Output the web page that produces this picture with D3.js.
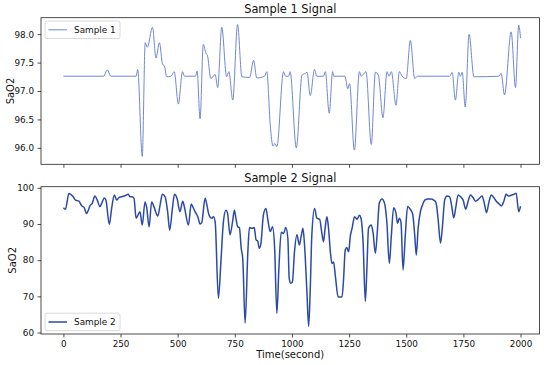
<!DOCTYPE html>
<html>
<head>
<meta charset="utf-8">
<script src="https://cdn.jsdelivr.net/npm/d3@7"></script>
<style>
  html, body { margin: 0; padding: 0; background: #fff; }
  svg { display: block; font-family: "DejaVu Sans", sans-serif; }
</style>
</head>
<body>
<svg id="chart" width="550" height="365"></svg>
<script>
// ---------------- data ----------------
const time1 = [0,175,192,208,318,325,345,358,367,390,405,420,434,442,452,470,485,503,521,530,578,585,598,612,624,630,645,664,675,693,714,724,741,762,781,815,832,846,880,890,905,917,924,934,963,972,985,992,1019,1044,1058,1066,1080,1099,1108,1138,1146,1163,1178,1183,1232,1244,1252,1273,1295,1303,1324,1347,1365,1378,1398,1416,1425,1435,1455,1470,1482,1500,1518,1537,1548,1690,1701,1715,1730,1737,1745,1758,1775,1796,1905,1915,1930,1959,1978,1992,2000];
const sample1 = [97.26,97.26,97.37,97.26,97.26,97.38,95.85,97.85,97.77,98.12,97.58,97.85,97.47,97.44,97.25,97.26,97.34,96.77,97.34,97.26,97.26,97.35,96.51,97.82,97.66,97.63,97.22,97.29,97.06,98.12,97.25,97.34,96.84,98.17,97.25,97.24,97.54,97.23,97.26,97.34,96.4,96.03,96.08,96.02,97.34,97.26,97.26,97.34,96.0,97.28,97.31,97.33,96.92,97.38,97.26,97.26,97.34,96.61,97.34,97.26,97.26,97.04,97.13,95.96,97.34,97.26,97.34,96.06,97.33,97.28,96.53,97.34,97.26,97.34,96.75,97.34,97.26,97.22,97.89,97.22,97.26,97.26,97.33,96.84,97.33,97.26,97.33,96.72,98.0,97.25,97.26,97.31,96.93,98.04,97.06,98.16,97.93];

const time2 = [0,9,24,43,53,68,80,91,101,109,116,126,138,148,160,167,179,186,201,211,223,233,243,255,269,284,291,301,309,318,328,335,345,357,364,375,386,396,413,423,433,445,456,465,477,486,497,510,522,530,547,559,566,576,588,598,605,620,628,637,649,656,664,678,690,700,711,718,729,740,748,755,763,770,778,785,795,807,814,825,835,843,850,857,864,875,886,895,905,915,924,934,943,953,963,973,982,988,995,1002,1011,1022,1032,1040,1048,1055,1066,1073,1080,1087,1099,1109,1121,1131,1138,1145,1153,1160,1168,1175,1182,1190,1202,1208,1219,1226,1233,1240,1248,1255,1263,1274,1285,1295,1302,1311,1321,1328,1335,1347,1355,1365,1373,1382,1394,1405,1415,1426,1435,1445,1455,1462,1470,1477,1486,1496,1506,1518,1528,1537,1544,1552,1562,1572,1581,1595,1610,1620,1630,1639,1650,1658,1668,1678,1690,1698,1708,1716,1727,1738,1749,1760,1770,1781,1792,1803,1812,1820,1832,1842,1851,1862,1872,1883,1894,1905,1917,1927,1937,1948,1961,1971,1981,1992,2000];
const sample2 = [94.5,94.1,98.4,97.5,96.6,96.3,95.0,94.5,92.9,93.8,95.0,95.7,97.7,96.6,94.8,95.6,97.2,96.6,89.9,94.3,98.0,96.6,97.3,97.5,97.8,98.2,97.5,97.5,97.1,91.6,92.7,93.4,89.7,96.1,94.7,89.2,96.1,94.8,92.2,95.2,98.2,97.5,93.4,88.3,94.3,98.2,97.1,93.4,96.3,94.5,89.7,95.5,94.8,93.4,92.0,90.0,90.3,97.1,95.2,92.5,91.6,92.0,90.6,69.5,80.5,90.6,93.8,93.0,87.0,90.6,93.8,91.5,89.2,89.0,83.3,80.1,62.6,82.3,89.0,88.8,89.0,85.6,85.3,83.3,84.5,92.5,94.3,91.0,87.9,89.2,83.6,65.3,78.0,87.7,87.4,89.0,86.0,75.0,73.6,74.0,82.3,87.0,84.2,86.5,88.8,84.2,70.4,61.7,72.0,87.0,94.3,91.6,91.3,87.4,85.1,88.8,92.0,88.8,82.3,79.1,79.5,75.5,69.9,69.8,69.8,75.0,82.8,83.5,82.3,86.5,88.8,92.0,91.3,92.4,91.6,85.1,68.6,78.0,88.8,89.7,87.5,81.9,87.5,95.7,96.9,95.7,90.6,79.1,87.0,94.5,93.0,90.2,91.6,90.5,77.3,87.0,94.8,94.0,92.8,87.0,81.4,88.8,93.4,95.4,96.6,96.9,96.9,96.6,95.9,91.6,84.7,89.0,96.6,97.7,97.5,95.2,91.7,94.3,98.0,97.5,96.6,94.1,96.1,98.0,97.3,96.3,96.6,97.1,97.7,95.6,93.1,96.1,98.0,97.3,96.3,95.6,95.0,96.3,98.2,97.7,98.0,98.2,98.5,93.4,94.9];

const xTicks = [0,250,500,750,1000,1250,1500,1750,2000];
const yTicks1 = [96.0,96.5,97.0,97.5,98.0];
const yTicks2 = [60,70,80,90,100];

const title1 = "Sample 1 Signal", title2 = "Sample 2 Signal";
const legend1 = "Sample 1", legend2 = "Sample 2";
const yLabel = "SaO2", xLabel = "Time(second)";

// ---------------- layout ----------------
const svg = d3.select("#chart");
const L = 41, R = 539.5;
const top1 = 17.7, bot1 = 164.3;
const top2 = 186.7, bot2 = 334;

const x = d3.scaleLinear().domain([-98, 2083]).range([L, R]);
const y1 = d3.scaleLinear().domain([95.71, 98.29]).range([bot1, top1]);
const y2 = d3.scaleLinear().domain([59.6, 100.3]).range([bot2, top2]);

const color1 = "#7088d4", color2 = "#2b4aa6";
const tickFont = 8.8;

function panel(yScale, yT, yFmt, top, bot, showXLabels, times, vals, color, width, title, legendText, legendPos, labelX) {
  const g = svg.append("g");
  // line
  const line = d3.line().x((d, i) => x(times[i])).y(d => yScale(d)).curve(d3.curveMonotoneX);
  g.append("path").datum(vals).attr("d", line)
    .attr("fill", "none").attr("stroke", color).attr("stroke-width", width)
    .attr("stroke-linejoin", "round");

  // axes
  const xa = d3.axisBottom(x).tickValues(xTicks).tickSize(3.5).tickPadding(3.5)
    .tickFormat(showXLabels ? d3.format("d") : () => "");
  const gx = g.append("g").attr("transform", `translate(0,${bot})`).call(xa);
  const ya = d3.axisLeft(yScale).tickValues(yT).tickSize(3.5).tickPadding(3.5).tickFormat(yFmt);
  const gy = g.append("g").attr("transform", `translate(${L},0)`).call(ya);
  [gx, gy].forEach(a => {
    a.select(".domain").remove();
    a.selectAll(".tick line").attr("stroke", "#222").attr("stroke-width", 0.8);
    a.selectAll(".tick text").attr("fill", "#111").style("font-size", tickFont + "px")
      .style("font-family", "DejaVu Sans");
  });

  // frame
  g.append("rect").attr("x", L).attr("y", top).attr("width", R - L).attr("height", bot - top)
    .attr("fill", "none").attr("stroke", "#222").attr("stroke-width", 0.8);

  // title
  g.append("text").attr("x", (L + R) / 2).attr("y", top - 5).attr("text-anchor", "middle")
    .style("font-size", "11.4px").attr("fill", "#111").text(title);

  // y label
  g.append("text").attr("transform", `translate(${labelX},${(top + bot) / 2}) rotate(-90)`)
    .attr("text-anchor", "middle").attr("dominant-baseline", "central")
    .style("font-size", "10px").attr("fill", "#111").text(yLabel);

  // legend
  const lg = g.append("g").attr("transform", `translate(45,${legendPos})`);
  lg.append("rect").attr("width", 75).attr("height", 17.5).attr("rx", 2)
    .attr("fill", "white").attr("fill-opacity", 0.8).attr("stroke", "#d0d0d0").attr("stroke-width", 0.8);
  lg.append("line").attr("x1", 3.5).attr("x2", 22).attr("y1", 8.8).attr("y2", 8.8)
    .attr("stroke", color).attr("stroke-width", width);
  lg.append("text").attr("x", 29).attr("y", 8.8).attr("dominant-baseline", "central")
    .style("font-size", "8.9px").attr("fill", "#111").text(legendText);
  return g;
}

panel(y1, yTicks1, d3.format(".1f"), top1, bot1, false, time1, sample1, color1, 1.0, title1, legend1, 21, 10);
panel(y2, yTicks2, d3.format("d"), top2, bot2, true, time2, sample2, color2, 1.5, title2, legend2, 313.2, 12);

svg.append("text").attr("x", (L + R) / 2).attr("y", 357.5).attr("text-anchor", "middle")
  .style("font-size", "10px").attr("fill", "#111").text(xLabel);
</script>
</body>
</html>
